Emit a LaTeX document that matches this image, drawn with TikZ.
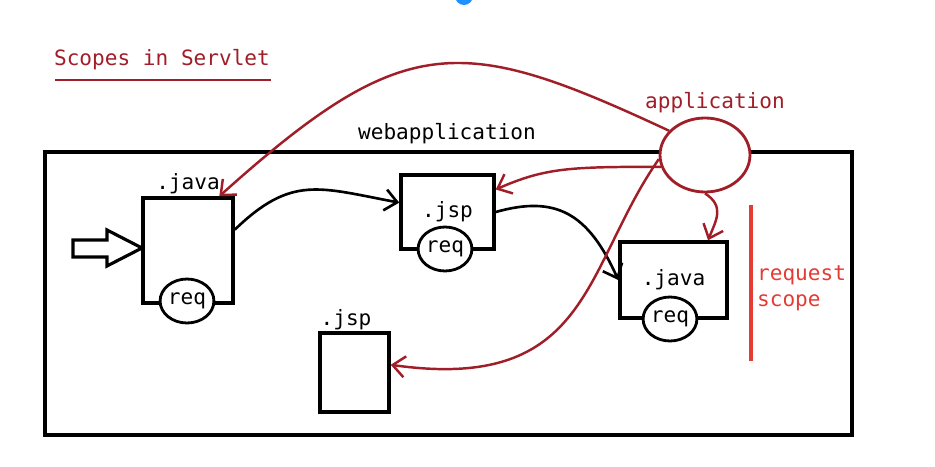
\documentclass[tikz,border=0pt]{standalone}
\usepackage{fontspec}
\setmonofont{DejaVu Sans Mono}
\usetikzlibrary{arrows.meta,shapes,positioning}

\definecolor{appred}{RGB}{160,30,40}
\definecolor{scopered}{RGB}{228,60,50}
\definecolor{dotblue}{RGB}{30,144,255}

\tikzset{
  txt/.style={font=\ttfamily\fontsize{12pt}{15pt}\selectfont, inner sep=1pt},
  webbox/.style={draw, line width=2pt},
  file/.style={draw, line width=2pt, font=\ttfamily\fontsize{12pt}{15pt}\selectfont},
  req/.style={draw, ellipse, fill=white, line width=1.6pt, minimum width=1.04cm, minimum height=0.88cm, inner sep=0pt, font=\ttfamily\fontsize{12pt}{15pt}\selectfont},
  flow/.style={->, line width=1.5pt},
  scopeflow/.style={->, line width=1.4pt, appred},
}

\begin{document}
\begin{tikzpicture}[x=0.02cm, y=-0.02cm, >={Straight Barb[length=7pt,width=12pt]}]
\useasboundingbox (0,0) rectangle (935,466);

\fill [dotblue] (464,-4) circle (0.18cm);

% title
\node [txt, appred] (title) at (162,60) {Scopes in Servlet};
\draw [appred, line width=1.5pt] (55,80) -- (271,80);

% web application
\draw [webbox] (45,152) rectangle (852,435);
\node [txt] (web) at (447,134) {webapplication};

\node [txt, appred] (applbl) at (715,103) {application};
\node [draw=appred, ellipse, fill=white, line width=1.6pt, minimum width=1.8cm, minimum height=1.48cm] (app) at (705,155) {};

% files
\node [file, minimum width=1.8cm, minimum height=2.1cm] (java1) at (188,250.5) {};
\node [txt, above=0pt of java1] (java1lbl) {.java};
\node [req] (req1) at (187,301) {req};

\node [file, minimum width=1.86cm, minimum height=1.48cm] (jsp2) at (447.5,212) {.jsp};
\node [req] (req2) at (445,249) {req};

\node [file, minimum width=2.14cm, minimum height=1.52cm] (java3) at (673.5,280) {.java};
\node [req] (req3) at (670,319) {req};

\node [file, minimum width=1.38cm, minimum height=1.58cm] (jsp4) at (354.5,372.5) {};
\node [txt] (jsp4lbl) at (346,320) {.jsp};

% incoming request
\draw [line width=1.8pt] (73,240) -- (107,240) -- (107,230) -- (142,248) -- (107,266) -- (107,257) -- (73,257) -- cycle;

% request scope
\draw [scopered, line width=1.8pt] (751,205) -- (751,361);
\node [txt, scopered, align=left, anchor=west] (reqscope) at (755,288) {request\\scope};

\draw [flow] (java1.24) .. controls +(57,-55) and +(-80,-15) .. (jsp2.169);
\draw [flow] (jsp2.east) .. controls +(60,-17) and +(-30,-67) .. (java3.west);

\draw [scopeflow] (app.146) .. controls +(-208,-97) and +(186,-167) .. (java1.60);
\draw [scopeflow] (app.195) .. controls +(-90,0) and +(50,-22) .. (jsp2.25);
\draw [scopeflow] (app.270) .. controls +(20,13) and +(8,-20) .. (java3.49);
\draw [scopeflow] (app.185) .. controls +(-76,109) and +(200,28) .. (jsp4.12);

\end{tikzpicture}
\end{document}
